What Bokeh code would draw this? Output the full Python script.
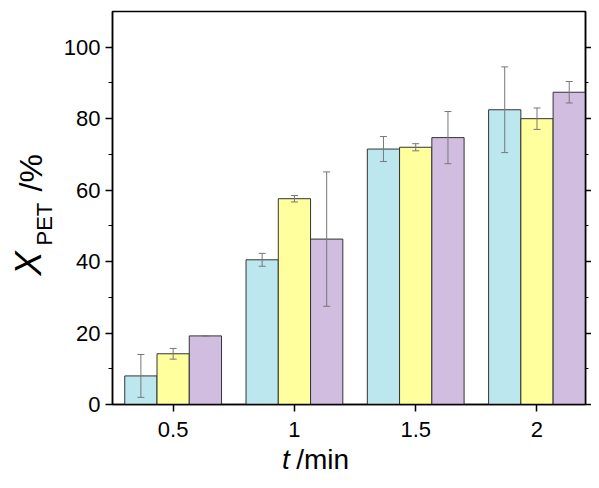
from math import pi
from bokeh.plotting import figure
from bokeh.layouts import row, column
from bokeh.models import ColumnDataSource, Whisker, Label, LinearAxis, Range1d, FixedTicker
from bokeh.embed import file_html
from bokeh.resources import INLINE

times = [0.5, 1.0, 1.5, 2.0]
tick_labels = {0.5: "0.5", 1: "1", 1.5: "1.5", 2: "2"}
series_a = [8.0, 40.5, 71.5, 82.5]
err_a = [6.0, 1.8, 3.5, 12.0]
series_b = [14.2, 57.6, 72.0, 80.0]
err_b = [1.5, 0.9, 1.0, 3.0]
series_c = [19.2, 46.3, 74.7, 87.4]
err_c = [0.0, 18.8, 7.3, 3.0]
colors = ["#bde7ee", "#ffff9e", "#d0bde0"]

bw = 0.133
p = figure(frame_width=473, frame_height=393, output_backend="svg", toolbar_location=None,
           x_range=Range1d(0.25, 2.2), y_range=Range1d(0, 110),
           min_border_left=54, min_border_right=0, min_border_top=11, min_border_bottom=40)

for i, (vals, errs) in enumerate([(series_a, err_a), (series_b, err_b), (series_c, err_c)]):
    xs = [t + (i - 1) * bw for t in times]
    src = ColumnDataSource(dict(x=xs, top=vals,
                                lo=[v - e for v, e in zip(vals, errs)],
                                hi=[v + e for v, e in zip(vals, errs)]))
    p.vbar(x="x", top="top", width=bw, source=src, fill_color=colors[i],
           line_color="#333333", line_width=1)
    w = Whisker(source=src, base="x", lower="lo", upper="hi", line_color="#777777",
                line_width=1, level="overlay")
    w.upper_head.size = 7
    w.lower_head.size = 7
    w.upper_head.line_color = "#777777"
    w.lower_head.line_color = "#777777"
    p.add_layout(w)

p.grid.grid_line_color = None
p.outline_line_color = "black"
p.outline_line_width = 1.5
p.xaxis.ticker = FixedTicker(ticks=times)
p.xaxis.major_label_overrides = tick_labels
p.yaxis.ticker = FixedTicker(ticks=[0, 20, 40, 60, 80, 100], minor_ticks=[10, 30, 50, 70, 90])
for ax in [p.xaxis[0], p.yaxis[0]]:
    ax.axis_line_width = 1.5
    ax.major_tick_line_width = 1.5
    ax.major_tick_in = 0
    ax.major_tick_out = 7
    ax.minor_tick_in = 0
    ax.minor_tick_out = 4
    ax.major_label_text_font = "Liberation Sans"
    ax.major_label_text_font_size = "22px"
    ax.major_label_text_color = "black"
p.xaxis.minor_tick_line_color = None
p.yaxis.major_label_standoff = 5
p.xaxis.major_label_standoff = 10

right = LinearAxis(ticker=FixedTicker(ticks=[0, 20, 40, 60, 80, 100], minor_ticks=[10, 30, 50, 70, 90]),
                   major_label_text_font_size="0px", major_tick_in=0, major_tick_out=6,
                   minor_tick_in=0, minor_tick_out=3, axis_line_width=1.5, major_tick_line_width=1.5)
p.add_layout(right, "right")


def blank(w, h):
    f = figure(width=w, height=h, output_backend="svg", toolbar_location=None,
               x_range=Range1d(0, w), y_range=Range1d(0, h),
               min_border=0, outline_line_color=None)
    f.axis.visible = False
    f.grid.grid_line_color = None
    return f


# y axis title (X with subscript PET) in a strip on the left
ylab = blank(58, 444)
for lab in [
    Label(x=48, y=169, text="X", angle=pi / 2, text_font_style="italic", text_font_size="36px"),
    Label(x=56, y=199, text="PET", angle=pi / 2, text_font_size="22px"),
    Label(x=48, y=253, text="/%", angle=pi / 2, text_font_size="32px"),
]:
    lab.text_font = "Liberation Sans"
    lab.text_color = "black"
    ylab.add_layout(lab)

# x axis title in a strip below
xlab = blank(533, 30)
for lab in [
    Label(x=191, y=0, text="t", text_font_style="italic", text_font_size="28px"),
    Label(x=207, y=0, text="/min", text_font_size="28px"),
]:
    lab.text_font = "Liberation Sans"
    lab.text_color = "black"
    xlab.add_layout(lab)

layout = row(ylab, column(p, xlab, spacing=0), spacing=0)
open("out.html", "w").write(file_html(layout, INLINE))
